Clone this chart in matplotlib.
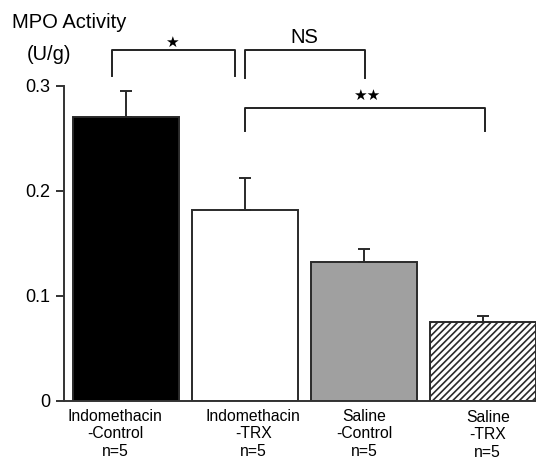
import matplotlib
matplotlib.use("Agg")
import matplotlib.pyplot as plt

categories = ["Indomethacin\n-Control\nn=5", "Indomethacin\n-TRX\nn=5",
              "Saline\n-Control\nn=5", "Saline\n-TRX\nn=5"]
values = [0.270, 0.182, 0.132, 0.075]
errors = [0.025, 0.030, 0.013, 0.006]
ticks = [0, 0.1, 0.2, 0.3]
tick_labels = ["0", "0.1", "0.2", "0.3"]

plt.rcParams['font.family'] = ['Liberation Sans', 'DejaVu Sans']
plt.rcParams['hatch.linewidth'] = 1.2

fig = plt.figure(figsize=(5.36, 4.61), dpi=100)
ax = fig.add_axes([64/536, 60.3/461, 1 - 64/536, 314.7/461])

x = list(range(len(values)))
colors = ["black", "white", "#a0a0a0", "white"]
hatches = [None, None, None, "/////"]
for i in x:
    ax.bar(i, values[i], width=0.89, color=colors[i], edgecolor="#2a2a2a",
           linewidth=1.4, hatch=hatches[i], zorder=2)
    ax.errorbar(i, values[i], yerr=[[0], [errors[i]]], fmt="none",
                ecolor="#2a2a2a", elinewidth=1.4, capsize=4, capthick=1.4, zorder=3)

ax.set_xlim(-0.52, 3.445)
ax.set_ylim(0, 0.3)
ax.set_yticks(ticks)
ax.set_yticklabels(tick_labels, fontsize=13)
ax.set_xticks([])
for s in ["top", "right"]:
    ax.spines[s].set_visible(False)
for s in ["left", "bottom"]:
    ax.spines[s].set_linewidth(1.4)
    ax.spines[s].set_color("#333333")
ax.tick_params(axis="y", length=6, width=1.4, color="#333333", pad=4)

# category labels
label_dx = [-0.09, 0.07, 0.0, 0.04]
label_dy = [0, 0, 0, -0.5]
for i, lab in enumerate(categories):
    ax.annotate(lab, xy=(i + label_dx[i], 0), xycoords="data",
                xytext=(0, -6 + label_dy[i]), textcoords="offset points",
                ha="center", va="top", fontsize=11.3, linespacing=1.2)

# significance brackets
def bracket(x1, x2, ytop, yl, yr, text, tx, ty, fs, fam):
    ax.plot([x1, x1, x2, x2], [yl, ytop, ytop, yr], color="#222222",
            lw=1.4, clip_on=False)
    ax.text(tx, ty, text, ha="center", va="center", fontsize=fs,
            family=fam, clip_on=False)

star_font = ['DejaVu Sans']
bracket(-0.115, 0.915, 0.334, 0.310, 0.310, "\u2605", 0.39, 0.342, 11, star_font)
bracket(1.0, 2.01, 0.334, 0.308, 0.308, "NS", 1.5, 0.346, 14.5,
        ['Liberation Sans', 'DejaVu Sans'])
bracket(1.0, 3.02, 0.279, 0.257, 0.257, "\u2605\u2605", 2.02, 0.291, 11, star_font)

fig.text(12/536, 1 - 23/461, "MPO Activity", fontsize=14.5, va="center", ha="left")
fig.text(27/536, 1 - 54/461, "(U/g)", fontsize=14.5, va="center", ha="left")

fig.savefig("out.png", dpi=100)
